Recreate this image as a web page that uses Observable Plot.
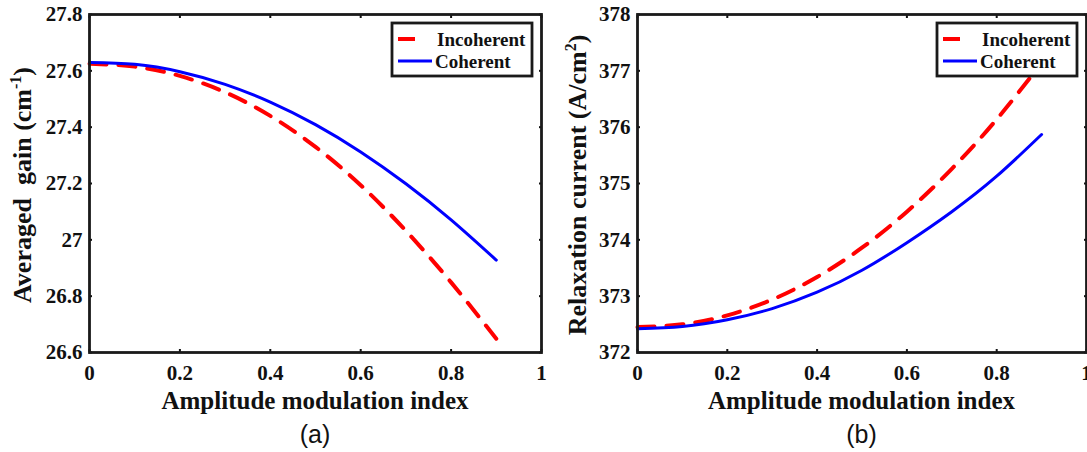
<!DOCTYPE html>
<html><head><meta charset="utf-8">
<script src="https://cdn.jsdelivr.net/npm/d3@7"></script>
<script src="https://cdn.jsdelivr.net/npm/@observablehq/plot@0.6"></script>
<style>
html,body{margin:0;padding:0;background:#fff;overflow:hidden;}
#wrap{position:relative;width:1087px;height:452px;overflow:hidden;background:#fff;}
.panel{position:absolute;top:0;}
.cap{position:absolute;top:420px;font-family:"Liberation Sans",Arial,sans-serif;font-size:25px;color:#111;transform:translateX(-50%);white-space:nowrap;}
</style></head><body><div id="wrap"></div>
<script>
// ---- data ----
const modIndex = [0, 0.1, 0.2, 0.3, 0.4, 0.5, 0.6, 0.7, 0.8, 0.9];
const gainIncoherent = [27.625, 27.615, 27.582, 27.524, 27.44, 27.33, 27.194, 27.032, 26.849, 26.649];
const gainCoherent   = [27.63, 27.623, 27.597, 27.552, 27.489, 27.409, 27.312, 27.199, 27.071, 26.928];
const currentIncoherent = [372.45, 372.5, 372.66, 372.94, 373.34, 373.86, 374.5, 375.26, 376.14, 377.14];
const currentCoherent   = [372.42, 372.46, 372.58, 372.78, 373.07, 373.46, 373.95, 374.5, 375.13, 375.87];
const xTicks = [0, 0.2, 0.4, 0.6, 0.8, 1];
const gainTicks = [26.6, 26.8, 27, 27.2, 27.4, 27.6, 27.8];
const currentTicks = [372, 373, 374, 375, 376, 377, 378];
const seriesNames = ["Incoherent", "Coherent"];
const seriesColors = ["#ff0000", "#0000ff"];
const xLabel = "Amplitude modulation index";

const fmt = d => String(+d.toFixed(2));
const none = () => "";
const wrap = document.getElementById("wrap");

function panel({left, width, marginRight, yDomain, yTicks, inc, coh, yLabelParts, yLabelX, caption}) {
  const incRows = modIndex.map((x, i) => ({x, y: inc[i]}));
  const cohRows = modIndex.map((x, i) => ({x, y: coh[i]}));
  const mL = 89, mT = 14, H = 452, mB = 100;
  const svg = Plot.plot({
    width, height: H, marginLeft: mL, marginRight, marginTop: mT, marginBottom: mB,
    x: {domain: [0, 1]},
    y: {domain: yDomain},
    style: {fontFamily: "'Liberation Serif', 'Times New Roman', serif", fontWeight: "bold", fontSize: "21px", color: "#111", background: "transparent", overflow: "visible"},
    marks: [
      Plot.line(incRows, {x: "x", y: "y", stroke: seriesColors[0], strokeWidth: 4, strokeDasharray: "17,12", curve: "natural"}),
      Plot.line(cohRows, {x: "x", y: "y", stroke: seriesColors[1], strokeWidth: 3, curve: "natural"}),
      Plot.axisX({ticks: xTicks, tickSize: 0, tickPadding: 13, tickFormat: fmt, label: null}),
      Plot.axisX({ticks: xTicks, anchor: "bottom", tickSize: 3, dy: -3, tickFormat: none, label: null, strokeWidth: 2}),
      Plot.axisX({ticks: xTicks, anchor: "top", tickSize: 3, dy: 3, tickFormat: none, label: null, strokeWidth: 2}),
      Plot.axisY({ticks: yTicks, tickSize: 0, tickPadding: 7, tickFormat: fmt, label: null}),
      Plot.axisY({ticks: yTicks, anchor: "left", tickSize: 3, dx: 3, tickFormat: none, label: null, strokeWidth: 2}),
      Plot.axisY({ticks: yTicks, anchor: "right", tickSize: 3, dx: -3, tickFormat: none, label: null, strokeWidth: 2}),
      Plot.frame({stroke: "#1a1a1a", strokeWidth: 2.8})
    ]
  });
  svg.classList.add("panel");
  svg.style.left = left + "px";
  const s = d3.select(svg);
  const frameRight = width - marginRight;
  const cy = (mT + (H - mB)) / 2 + 2;
  // x label
  s.append("text").attr("x", (mL + frameRight) / 2).attr("y", 409)
    .attr("text-anchor", "middle").style("font-size", "25px").attr("fill", "#111").text(xLabel);
  // y label
  const yl = s.append("text").attr("transform", `translate(${yLabelX},${cy}) rotate(-90)`)
    .attr("text-anchor", "middle").style("font-size", "26px").style("white-space", "pre").attr("fill", "#111");
  yLabelParts.forEach(p => {
    const t = yl.append("tspan").text(p.t);
    if (p.sup) t.attr("dy", -10).style("font-size", "16px");
    if (p.after) t.attr("dy", 10);
  });
  // legend
  const lx = frameRight - 149, ly = 23;
  const g = s.append("g").attr("text-anchor", "start");
  g.append("rect").attr("x", lx).attr("y", ly).attr("width", 140).attr("height", 53)
    .attr("fill", "#fff").attr("stroke", "#1a1a1a").attr("stroke-width", 2.8);
  g.append("line").attr("x1", lx + 6).attr("x2", lx + 23).attr("y1", ly + 16).attr("y2", ly + 16)
    .attr("stroke", seriesColors[0]).attr("stroke-width", 4);
  g.append("line").attr("x1", lx + 6).attr("x2", lx + 40).attr("y1", ly + 38).attr("y2", ly + 38)
    .attr("stroke", seriesColors[1]).attr("stroke-width", 3);
  g.append("text").attr("x", lx + 45).attr("y", ly + 23).style("font-size", "19px").attr("fill", "#111").text(seriesNames[0]);
  g.append("text").attr("x", lx + 43).attr("y", ly + 45).style("font-size", "19px").attr("fill", "#111").text(seriesNames[1]);
  wrap.appendChild(svg);
  const c = document.createElement("div");
  c.className = "cap";
  c.style.left = (left + (mL + frameRight) / 2) + "px";
  c.textContent = caption;
  wrap.appendChild(c);
}

panel({left: 0, width: 545, marginRight: 4, yDomain: [26.6, 27.8], yTicks: gainTicks,
  inc: gainIncoherent, coh: gainCoherent, yLabelX: 31,
  yLabelParts: [{t: "Averaged  gain (cm"}, {t: "-1", sup: true}, {t: ")", after: true}], caption: "(a)"});
panel({left: 548, width: 548, marginRight: 10, yDomain: [372, 378], yTicks: currentTicks,
  inc: currentIncoherent, coh: currentCoherent, yLabelX: 38,
  yLabelParts: [{t: "Relaxation current (A/cm"}, {t: "2", sup: true}, {t: ")", after: true}], caption: "(b)"});
</script></body></html>
